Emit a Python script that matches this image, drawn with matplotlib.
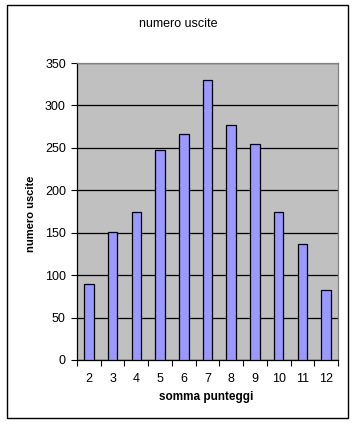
import matplotlib
matplotlib.use("Agg")
import matplotlib.pyplot as plt
from matplotlib.patches import Rectangle

categories = ["2", "3", "4", "5", "6", "7", "8", "9", "10", "11", "12"]
values = [90, 151, 174, 248, 266, 330, 277, 254, 174, 137, 82]
title = "numero uscite"
xlabel = "somma punteggi"
ylabel = "numero uscite"
yticks = [0, 50, 100, 150, 200, 250, 300, 350]

plt.rcParams['font.family'] = ['Liberation Sans', 'DejaVu Sans']

W, H = 356, 425
fig = plt.figure(figsize=(W / 100, H / 100), dpi=100)
fig.patch.set_facecolor("white")
fig.patches.append(Rectangle((7 / W, 1 - 418 / H), (348 - 7) / W, (418 - 5) / H,
                             transform=fig.transFigure, fill=False,
                             edgecolor="black", linewidth=1.0))

ax = fig.add_axes([77 / W, 1 - 360 / H, 261 / W, 297 / H])
ax.set_facecolor("#C0C0C0")
x = list(range(len(categories)))
ax.bar(x, values, width=0.4, color="#9999FF", edgecolor="black", linewidth=0.9, zorder=3)

ax.set_xlim(-0.5, len(categories) - 0.5)
ax.set_ylim(0, 350)
ax.set_yticks(yticks)
ax.yaxis.grid(True, color="black", linewidth=0.9, zorder=1)
ax.set_axisbelow(True)
ax.set_xticks(x)
ax.set_xticklabels(categories)
ax.set_xticks([i - 0.5 for i in range(len(categories) + 1)], minor=True)
ax.tick_params(axis="x", which="major", length=0, pad=9, labelsize=9)
ax.tick_params(axis="x", which="minor", length=4, width=0.8, direction="out", color="black")
ax.tick_params(axis="y", length=4, width=0.8, direction="out", labelsize=9, pad=4)

for s in ["top", "right"]:
    ax.spines[s].set_color("#808080")
    ax.spines[s].set_linewidth(0.9)
for s in ["left", "bottom"]:
    ax.spines[s].set_color("black")
    ax.spines[s].set_linewidth(0.9)

fig.text(178 / W, 1 - 24 / H, title, ha="center", va="center", fontsize=9)
fig.text(206 / W, 1 - 397 / H, xlabel, ha="center", va="center", fontsize=8.5, fontweight="bold")
fig.text(31 / W, 1 - 214 / H, ylabel, ha="center", va="center", fontsize=8,
         fontweight="bold", rotation=90)

fig.savefig("out.png", dpi=100)
